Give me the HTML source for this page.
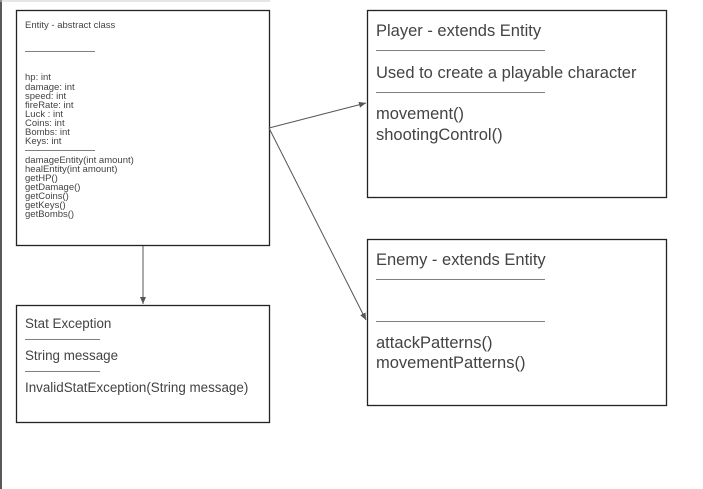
<!DOCTYPE html>
<html><head><meta charset="utf-8"><style>
html,body{margin:0;padding:0;background:#fff;}
svg{display:block;}
text{font-family:"Liberation Sans",sans-serif;fill:#434343;}
</style></head><body>
<svg width="703" height="489" viewBox="0 0 703 489" xmlns="http://www.w3.org/2000/svg">
<defs><marker id="a" markerWidth="8" markerHeight="8" refX="7" refY="4" orient="auto" markerUnits="userSpaceOnUse"><path d="M0,1 L7,4 L0,7 z" fill="#555"/></marker></defs>
<line x1="1" y1="0" x2="1" y2="489" stroke="#222" stroke-width="1.5"/>
<line x1="0" y1="1" x2="270" y2="1" stroke="#ccc" stroke-width="1"/>
<g fill="none" stroke="#222" stroke-width="1.3">
<rect x="16.5" y="10.5" width="253" height="235"/>
<rect x="367.5" y="10.5" width="299" height="187"/>
<rect x="367.5" y="239.5" width="299" height="166"/>
<rect x="16.5" y="305.5" width="253" height="117"/>
</g>
<g stroke="#555" stroke-width="1" fill="none">
<line x1="269" y1="128" x2="366" y2="103" marker-end="url(#a)"/>
<line x1="269" y1="128" x2="366" y2="320" marker-end="url(#a)"/>
<line x1="143" y1="246" x2="143" y2="304" marker-end="url(#a)"/>
</g>
<g stroke="#555" stroke-width="0.8">
<line x1="25" y1="51.5" x2="95" y2="51.5"/>
<line x1="25" y1="150.5" x2="95" y2="150.5"/>
<line x1="376" y1="50.5" x2="545" y2="50.5"/>
<line x1="376" y1="92.5" x2="545" y2="92.5"/>
<line x1="376" y1="279.5" x2="545" y2="279.5"/>
<line x1="376" y1="321.5" x2="545" y2="321.5"/>
<line x1="25" y1="339.5" x2="100" y2="339.5"/>
<line x1="25" y1="371.5" x2="100" y2="371.5"/>
</g>
<g font-size="9.5">
<text x="25" y="28">Entity - abstract class</text>
<text x="25" y="80">hp: int</text>
<text x="25" y="90">damage: int</text>
<text x="25" y="99">speed: int</text>
<text x="25" y="108">fireRate: int</text>
<text x="25" y="117">Luck : int</text>
<text x="25" y="126">Coins: int</text>
<text x="25" y="135">Bombs: int</text>
<text x="25" y="144">Keys: int</text>
<text x="25" y="163">damageEntity(int amount)</text>
<text x="25" y="172">healEntity(int amount)</text>
<text x="25" y="181">getHP()</text>
<text x="25" y="190">getDamage()</text>
<text x="25" y="199">getCoins()</text>
<text x="25" y="208">getKeys()</text>
<text x="25" y="217">getBombs()</text>
</g>
<g font-size="16.5">
<text x="376" y="36">Player - extends Entity</text>
<text x="376" y="78">Used to create a playable character</text>
<text x="376" y="119">movement()</text>
<text x="376" y="140">shootingControl()</text>
<text x="376" y="265">Enemy - extends Entity</text>
<text x="376" y="348">attackPatterns()</text>
<text x="376" y="368">movementPatterns()</text>
</g>
<g font-size="13.4">
<text x="25" y="328">Stat Exception</text>
<text x="25" y="360">String message</text>
<text x="25" y="392">InvalidStatException(String message)</text>
</g>
</svg>
</body></html>
